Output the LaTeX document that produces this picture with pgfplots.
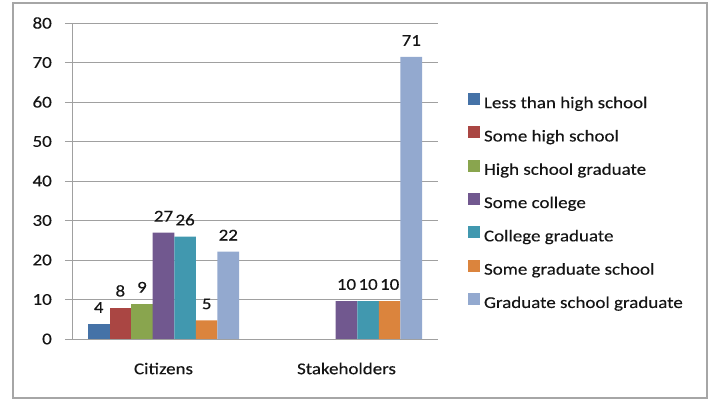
\documentclass[border=0pt]{standalone}
\usepackage{fontspec}
\setmainfont{Carlito}[FakeStretch=1.15, FakeBold=0.3]
\usepackage{pgfplots}
\pgfplotsset{compat=1.18}

\definecolor{cA}{HTML}{4572A7}
\definecolor{cB}{HTML}{AA4643}
\definecolor{cC}{HTML}{89A54E}
\definecolor{cD}{HTML}{71588F}
\definecolor{cE}{HTML}{4198AF}
\definecolor{cF}{HTML}{DB843D}
\definecolor{cG}{HTML}{93A9CF}
\definecolor{gridgray}{HTML}{A0A0A0}
\definecolor{framegray}{HTML}{A6A6A6}
\definecolor{txt}{HTML}{151515}

\begin{document}
\begin{tikzpicture}[font=\fontsize{16.5bp}{20bp}\selectfont]
  \useasboundingbox (0,0) rectangle (711bp,402bp);
  % chart frame
  \draw[framegray, line width=1.2bp] (13bp,4bp) rectangle (707bp,399bp);

  \begin{axis}[
      at={(72bp,63bp)}, anchor=south west,
      scale only axis,
      width=366bp, height=316bp,
      ybar=0pt,
      bar width=0.118,
      xmin=-0.5, xmax=1.5,
      ymin=0, ymax=80,
      ytick={0,10,...,80},
      xtick={0,1},
      xticklabels={Citizens, Stakeholders},
      x tick style={draw=none},
      extra x ticks={-0.5,0.5,1.5},
      extra x tick labels={},
      extra x tick style={tick style={draw=gridgray, line width=1bp}, major tick length=6bp, tick align=outside},
      axis lines*=left,
      axis line style={gridgray, line width=1bp},
      y tick style={gridgray, line width=1bp},
      major tick length=7bp,
      tick align=outside,
      ymajorgrids=true,
      grid style={gridgray, line width=1bp},
      /pgf/number format/assume math mode=true,
      yticklabel style={txt, inner sep=0pt, xshift=-13bp},
      xticklabel style={txt, inner sep=0pt, text height=12bp, yshift=-16bp},
      nodes near coords,
      nodes near coords style={txt, inner sep=0pt, anchor=south, yshift=11bp,
        /pgf/number format/.cd, fixed, precision=0, assume math mode=true},
      every axis plot/.append style={draw=none},
      legend cell align=left,
      legend image code/.code={\fill[#1] (0bp,-1bp) rectangle (12bp,11bp);},
      legend style={draw=none, fill=none, inner sep=0pt, outer sep=0pt,
        at={(1.082,0.778)}, anchor=north west,
        column sep=4bp, row sep=14.3bp,
        nodes={inner sep=0pt, text height=12bp, text depth=4bp, txt}},
  ]
  % Citizens only (Stakeholders value 0 for these groups)
  \addplot[fill=cA] coordinates {(0,3.8)};
  \addlegendentry{Less than high school}
  \addplot[fill=cB] coordinates {(0,7.9)};
  \addlegendentry{Some high school}
  \addplot[fill=cC] coordinates {(0,8.9)};
  \addlegendentry{High school graduate}
  \addplot[fill=cD] coordinates {(0,26.9) (1,9.6)};
  \addlegendentry{Some college}
  \addplot[fill=cE] coordinates {(0,25.9) (1,9.6)};
  \addlegendentry{College graduate}
  \addplot[fill=cF] coordinates {(0,4.7) (1,9.6)};
  \addlegendentry{Some graduate school}
  \addplot[fill=cG] coordinates {(0,22.1) (1,71.4)};
  \addlegendentry{Graduate school graduate}
  \end{axis}
\end{tikzpicture}
\end{document}
